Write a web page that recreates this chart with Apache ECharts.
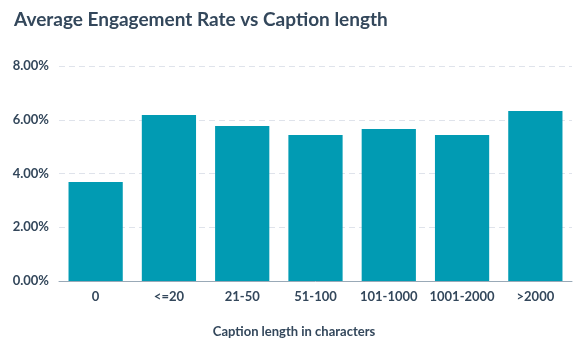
<!DOCTYPE html>
<html>
<head>
<meta charset="utf-8">
<script src="https://cdn.jsdelivr.net/npm/echarts@6/dist/echarts.min.js"></script>
<style>
  html, body { margin: 0; padding: 0; background: #fff; }
  #chart { width: 588px; height: 347px; }
</style>
</head>
<body>
<div id="chart"></div>
<script>
// Caption length buckets and their average engagement rate (%)
const categories = ['0', '<=20', '21-50', '51-100', '101-1000', '1001-2000', '>2000'];
const engagementRate = [3.68, 6.18, 5.77, 5.43, 5.66, 5.43, 6.33];
const yTicks = [0, 2, 4, 6, 8];

const textColor = '#33475b';
const fontFamily = 'Lato, "Open Sans", sans-serif';

const chart = echarts.init(document.getElementById('chart'));
chart.setOption({
  animation: false,
  title: {
    text: 'Average Engagement Rate vs Caption length',
    left: 9,
    top: 5,
    textStyle: { color: textColor, fontSize: 19, fontWeight: 'bold', fontFamily }
  },
  graphic: [{
    type: 'text',
    left: 'center',
    top: 325,
    style: {
      text: 'Caption length in characters',
      fill: textColor,
      font: 'bold 13px ' + fontFamily
    }
  }],
  grid: { left: 59, right: 16, top: 66, bottom: 66 },
  xAxis: {
    type: 'category',
    data: categories,
    axisLine: { lineStyle: { color: '#99a9b7', width: 1 } },
    axisTick: { show: false },
    axisLabel: { color: textColor, fontSize: 13, fontWeight: 'bold', fontFamily, margin: 9, interval: 0 }
  },
  yAxis: {
    type: 'value',
    min: yTicks[0],
    max: yTicks[yTicks.length - 1],
    interval: 2,
    axisLine: { show: false },
    axisTick: { show: false },
    axisLabel: {
      color: textColor, fontSize: 13, fontWeight: 'bold', fontFamily, margin: 10,
      formatter: v => v.toFixed(2) + '%'
    },
    splitLine: { lineStyle: { color: '#dfe3eb', type: [6, 4], width: 1 } }
  },
  series: [{
    type: 'bar',
    data: engagementRate,
    barCategoryGap: '26%',
    itemStyle: { color: '#019bb3' }
  }]
});
</script>
</body>
</html>
